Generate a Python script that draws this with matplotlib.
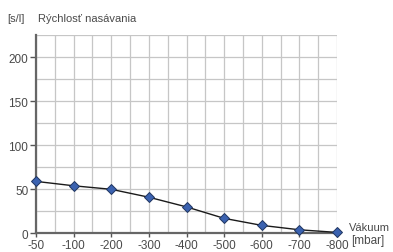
import matplotlib
matplotlib.use("Agg")
import matplotlib.pyplot as plt
import numpy as np

# data
vacuum_labels = ["-50", "-100", "-200", "-300", "-400", "-500", "-600", "-700", "-800"]
suction_speed = [59, 54, 50, 41, 30, 17, 9, 4, 1]

plt.rcParams["font.family"] = ["Liberation Sans", "DejaVu Sans"]
text_color = "#4a4a4a"

fig = plt.figure(figsize=(3.93, 2.53), dpi=100)
ax = fig.add_axes([0.0916, 0.0739, 0.766, 0.7826])

x = np.arange(len(vacuum_labels))
ax.plot(x, suction_speed, color="#1a1a1a", linewidth=1.0, zorder=3)
ax.plot(x, suction_speed, linestyle="none", marker="D", markersize=4.6,
        markerfacecolor="#3b62b0", markeredgecolor="#1f3560",
        markeredgewidth=0.7, zorder=4, clip_on=False)

ax.set_xlim(0, len(vacuum_labels) - 1)
ax.set_ylim(0, 225)
ax.set_xticks(x)
ax.set_xticklabels(vacuum_labels)
ax.set_xticks(np.arange(0, len(vacuum_labels) - 0.9, 0.5), minor=True)
ax.set_yticks([0, 50, 100, 150, 200])
ax.set_yticks(np.arange(0, 226, 25), minor=True)

ax.grid(True, which="both", color="#c6c6c6", linewidth=0.9)
ax.set_axisbelow(True)
ax.tick_params(which="minor", length=0)
ax.tick_params(axis="y", which="major", length=4, width=1, color="#555555",
               labelsize=8.5, labelcolor=text_color, pad=1.5)
ax.tick_params(axis="x", which="major", length=3, width=1, color="#555555",
               labelsize=8.5, labelcolor=text_color, pad=1)

for side in ["top", "right"]:
    ax.spines[side].set_visible(False)
for side in ["left", "bottom"]:
    ax.spines[side].set_color("#666666")
    ax.spines[side].set_linewidth(1.6)

fig.text(0.018, 0.913, "[s/l]", fontsize=8, color=text_color, va="baseline")
fig.text(0.096, 0.913, "Rýchlosť nasávania", fontsize=8, color=text_color, va="baseline")
fig.text(0.888, 0.087, "Vákuum", fontsize=8, color=text_color, va="baseline")
fig.text(0.894, 0.035, "[mbar]", fontsize=8.5, color=text_color, va="baseline")

fig.savefig("out.png", dpi=100)
